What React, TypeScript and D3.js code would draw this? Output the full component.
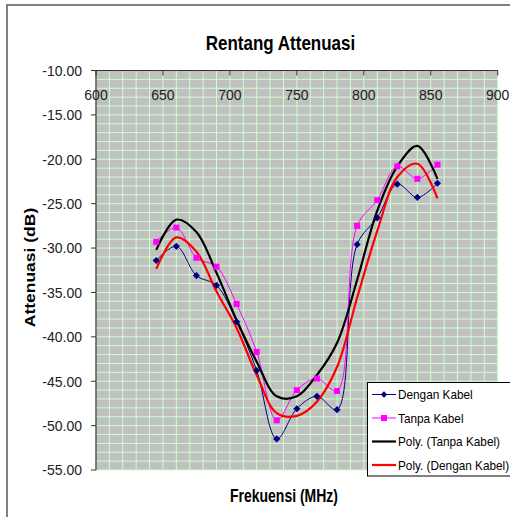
import React from "react";
import * as d3 from "d3";

// frequencies (MHz) where both measurements were taken
const freqs = [645, 660, 675, 690, 705, 720, 735, 750, 765, 780, 795, 810, 825, 840, 855];

// attenuation (dB)
const denganKabel = [-31.4, -29.8, -33.1, -34.2, -38.3, -43.8, -51.5, -48.1, -46.7, -48.2, -29.6, -26.6, -22.8, -24.3, -22.7];
const tanpaKabel = [-29.3, -27.7, -31.1, -32.1, -36.3, -41.7, -49.4, -46.0, -44.7, -46.1, -27.5, -24.6, -20.8, -22.2, -20.6];

// polynomial trendlines, sampled at the same frequencies
const polyTanpa = [-30.2, -26.8, -28.2, -32.8, -38.1, -42.8, -46.7, -46.7, -44.3, -40.7, -33.6, -25.8, -20.8, -18.5, -22.2];
const polyDengan = [-32.35, -28.8, -30.4, -34.9, -39.0, -44.3, -48.6, -48.9, -47.3, -43.4, -35.6, -28.1, -22.0, -20.5, -24.4];

const xTicks = [600, 650, 700, 750, 800, 850, 900];
const yTicks = [-10, -15, -20, -25, -30, -35, -40, -45, -50, -55];

const legendItems = ["Dengan Kabel", "Tanpa Kabel", "Poly. (Tanpa Kabel)", "Poly. (Dengan Kabel)"];

const W = 510;
const H = 517;
const font = "'Liberation Sans', Arial, sans-serif";

export default function App() {
    const x = d3.scaleLinear().domain([600, 900]).range([96, 497.7]);
    const y = d3.scaleLinear().domain([-55, -10]).range([470, 70.5]);

    const line = d3.line<[number, number]>()
        .x(d => x(d[0]))
        .y(d => y(d[1]))
        .curve(d3.curveCatmullRom.alpha(0.5));

    const pts = (vals: number[]) => freqs.map((f, i) => [f, vals[i]] as [number, number]);

    const diamond = (cx: number, cy: number, r: number) =>
        `M${cx},${cy - r}L${cx + r},${cy}L${cx},${cy + r}L${cx - r},${cy}Z`;

    const gridX = d3.range(600, 901, 10);
    const gridY = d3.range(-55, -9, 1);

    const legendY = [399, 422.5, 446, 469.5];

    return (
        <svg width={W} height={H} style={{position: "absolute", left: 0, top: 0, background: "#fff"}} fontFamily={font}>
            {/* outer frame */}
            <path d={`M7,${H}L7,5L${W},5`} fill="none" stroke="#808080" strokeWidth={2} />

            {/* plot area */}
            <rect x={x(600)} y={y(-10)} width={x(900) - x(600)} height={y(-55) - y(-10)} fill="#c0c0c0" />
            {gridX.map(g => (
                <line key={"gx" + g} x1={x(g)} x2={x(g)} y1={y(-10)} y2={y(-55)} stroke="#ccffcc" strokeWidth={1} />
            ))}
            {gridY.map(g => (
                <line key={"gy" + g} x1={x(600)} x2={x(900)} y1={y(g)} y2={y(g)} stroke="#ccffcc" strokeWidth={1} />
            ))}

            {/* axes */}
            <line x1={x(600)} x2={x(900)} y1={y(-10)} y2={y(-10)} stroke="#333" strokeWidth={1.2} />
            <line x1={x(600)} x2={x(600)} y1={y(-10)} y2={y(-55)} stroke="#333" strokeWidth={1.2} />
            {xTicks.map(t => (
                <g key={"xt" + t}>
                    <line x1={x(t)} x2={x(t)} y1={y(-10)} y2={y(-10) + 5} stroke="#333" />
                    <text x={x(t)} y={100} textAnchor="middle" fontSize={14} fill="#222">{t}</text>
                </g>
            ))}
            {yTicks.map(t => (
                <g key={"yt" + t}>
                    <line x1={x(600) - 5} x2={x(600)} y1={y(t)} y2={y(t)} stroke="#333" />
                    <text x={82} y={y(t)} dy="0.38em" textAnchor="end" fontSize={14} fill="#222">{t.toFixed(2)}</text>
                </g>
            ))}

            {/* data series */}
            <path d={line(pts(denganKabel)) || ""} fill="none" stroke="#000080" strokeWidth={1} />
            <path d={line(pts(tanpaKabel)) || ""} fill="none" stroke="#ff00ff" strokeWidth={1} />

            {/* trendlines */}
            <path d={line(pts(polyTanpa)) || ""} fill="none" stroke="#000" strokeWidth={2.2} />
            <path d={line(pts(polyDengan)) || ""} fill="none" stroke="#ff0000" strokeWidth={2.2} />

            {/* markers */}
            {freqs.map((f, i) => (
                <path key={"d" + f} d={diamond(x(f), y(denganKabel[i]), 3.6)} fill="#000080" />
            ))}
            {freqs.map((f, i) => (
                <rect key={"t" + f} x={x(f) - 3} y={y(tanpaKabel[i]) - 3} width={6} height={6} fill="#ff00ff" />
            ))}

            {/* titles */}
            <text transform="translate(280.5,50) scale(1,1.2)" textAnchor="middle" fontSize={17} fontWeight="bold">
                Rentang Attenuasi
            </text>
            <text transform="translate(284,501.5) scale(1,1.25)" textAnchor="middle" fontSize={14} fontWeight="bold">
                Frekuensi (MHz)
            </text>
            <text transform="translate(35,267.5) scale(1,1.25) rotate(-90)" textAnchor="middle" fontSize={14} fontWeight="bold">
                Attenuasi (dB)
            </text>

            {/* legend */}
            <rect x={367.5} y={382.5} width={160} height={93.5} fill="#fff" stroke="#000" strokeWidth={1} />
            {legendItems.map((name, i) => {
                const ly = legendY[i] - 4.5;
                const color = ["#000080", "#ff00ff", "#000", "#ff0000"][i];
                return (
                    <g key={name}>
                        <line x1={372} x2={396} y1={ly} y2={ly} stroke={color} strokeWidth={i < 2 ? 1 : 2.2} />
                        {i === 0 && <path d={diamond(384, ly, 3.2)} fill={color} />}
                        {i === 1 && <rect x={381} y={ly - 3} width={6} height={6} fill={color} />}
                        <text transform={`translate(398,${legendY[i]}) scale(1,1.1)`} fontSize={11.8} fill="#000">{name}</text>
                    </g>
                );
            })}
        </svg>
    );
}
